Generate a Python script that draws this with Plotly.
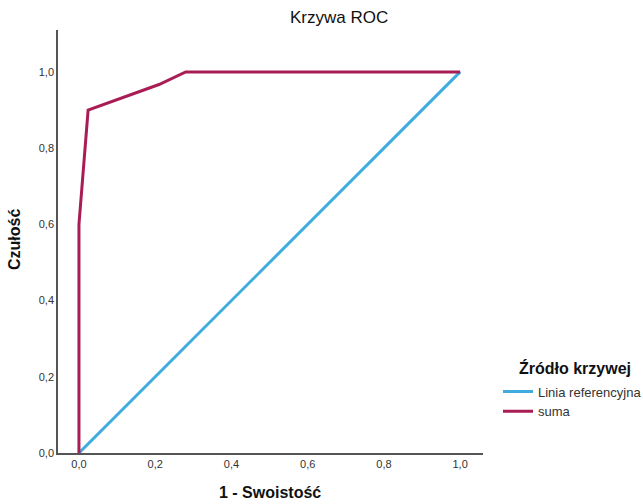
import plotly.graph_objects as go

ref_x = [0.0, 1.0]
ref_y = [0.0, 1.0]
suma_x = [0.0, 0.0, 0.024, 0.21, 0.28, 1.0]
suma_y = [0.0, 0.6, 0.9, 0.967, 1.0, 1.0]
tick_vals = [0.0, 0.2, 0.4, 0.6, 0.8, 1.0]

BLUE = "#3FABDE"
CRIMSON = "#A91D55"

# plot area in pixels
L, R, T, B = 58, 483, 30, 453
W, H = 643, 504
def px(x):
    return (x - L) / (R - L)
def py(y):
    return (B - y) / (B - T)

fig = go.Figure()
fig.add_trace(go.Scatter(x=ref_x, y=ref_y, mode="lines", name="Linia referencyjna",
                         line=dict(color=BLUE, width=3)))
fig.add_trace(go.Scatter(x=suma_x, y=suma_y, mode="lines", name="suma",
                         line=dict(color=CRIMSON, width=3)))

axis_common = dict(showgrid=False, zeroline=False, showline=True, linecolor="#555555",
                   linewidth=1.5, ticks="", tickvals=tick_vals, tickformat=".1f",
                   tickfont=dict(family="Liberation Sans, Arial", size=11, color="#333333"))

fig.update_layout(
    width=W, height=H,
    margin=dict(l=L, r=W - R, t=T, b=H - B, autoexpand=False),
    plot_bgcolor="white", paper_bgcolor="white",
    separators=", ",
    font=dict(family="Liberation Sans, Arial", color="#222222"),
    xaxis=dict(range=[-0.055, 1.06], **axis_common),
    yaxis=dict(range=[0, 1.11], **axis_common),
    legend=dict(x=px(498), y=py(401.5), xanchor="left", yanchor="middle",
                font=dict(size=13, color="#333333"), itemwidth=30,
                bgcolor="rgba(0,0,0,0)"),
    annotations=[
        dict(text="Krzywa ROC", x=px(339), y=py(18), xref="paper", yref="paper",
             showarrow=False, font=dict(size=17, color="#111111"),
             xanchor="center", yanchor="middle"),
        dict(text="<b>1 - Swoistość</b>", x=px(270), y=py(493), xref="paper", yref="paper",
             showarrow=False, font=dict(size=16, color="#111111"),
             xanchor="center", yanchor="middle"),
        dict(text="<b>Czułość</b>", x=px(14), y=py(240), xref="paper", yref="paper",
             showarrow=False, textangle=-90, font=dict(size=16, color="#111111"),
             xanchor="center", yanchor="middle"),
        dict(text="<b>Źródło krzywej</b>", x=px(517), y=py(368), xref="paper", yref="paper",
             showarrow=False, font=dict(size=16, color="#111111"),
             xanchor="left", yanchor="middle"),
    ],
)

fig.write_html("out.html", config={"displayModeBar": False},
               post_script="document.body.style.margin='0';")
